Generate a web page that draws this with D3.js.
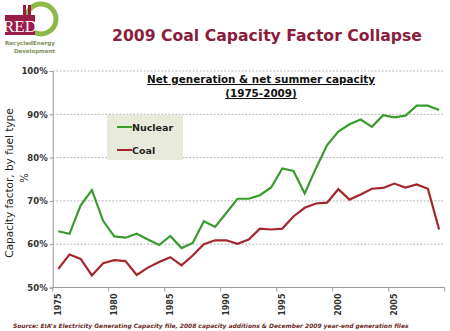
<!DOCTYPE html>
<html><head><meta charset="utf-8">
<script src="https://cdn.jsdelivr.net/npm/d3@7"></script>
<style>body{margin:0;background:#fff}svg{display:block}</style>
</head><body>
<script>
const years = d3.range(1975, 2010);
const nuclear = [63.0,62.4,69.0,72.5,65.4,61.8,61.5,62.4,61.1,59.8,61.9,59.1,60.3,65.3,64.0,67.2,70.5,70.5,71.3,73.1,77.5,76.9,71.7,77.5,82.9,86.0,87.7,88.8,87.1,89.8,89.3,89.7,92.0,92.0,91.0];
const coal = [54.3,57.6,56.6,52.8,55.6,56.3,56.1,52.9,54.6,55.9,57.0,55.1,57.4,60.0,60.9,60.9,60.1,61.1,63.6,63.4,63.6,66.4,68.4,69.4,69.6,72.7,70.3,71.5,72.8,73.0,74.0,73.1,73.8,72.8,63.4];
const yTicks = [50,60,70,80,90,100];
const xTickYears = [1975,1980,1985,1990,1995,2000,2005];
const seriesNames = ["Nuclear","Coal"];
const colors = {Nuclear:"#3a9a30", Coal:"#a3262c"};

const W=450,H=331;
const svg=d3.select("body").append("svg").attr("width",W).attr("height",H);
const pL=52.7, pR=444.7, pT=71, pB=287.5;
const x=d3.scaleBand().domain(years).range([pL,pR]);
const y=d3.scaleLinear().domain([50,100]).range([pB,pT]);

function fit(sel, target){ const w=sel.node().getComputedTextLength(); const fs=parseFloat(sel.attr("font-size")); sel.attr("font-size",(fs*target/w).toFixed(2)); }

// logo
const logo=svg.append("g");
logo.append("circle").attr("cx",41).attr("cy",19).attr("r",15).attr("fill","none").attr("stroke","#8db84a").attr("stroke-width",5);
logo.append("rect").attr("x",23).attr("y",5).attr("width",3).attr("height",10).attr("fill","#9b1d4a");
logo.append("rect").attr("x",28).attr("y",5).attr("width",3).attr("height",10).attr("fill","#9b1d4a");
logo.append("rect").attr("x",5).attr("y",15).attr("width",30).attr("height",20).attr("fill","#9b1d4a");
logo.append("text").attr("x",20).attr("y",32).attr("text-anchor","middle").attr("font-family","Liberation Serif").attr("font-size",17).attr("fill","#fff").text("RED");
const t1=logo.append("text").attr("x",5).attr("y",45).attr("font-family","DejaVu Sans").attr("font-weight","bold").attr("font-size",6).attr("fill","#7d8f5a").text("RecycledEnergy");
fit(t1,50);
const t2=logo.append("text").attr("x",14).attr("y",53).attr("font-family","DejaVu Sans").attr("font-weight","bold").attr("font-size",6).attr("fill","#7d8f5a").text("Development");
fit(t2,41);

// title
const tt=svg.append("text").attr("x",112).attr("y",41).attr("font-family","DejaVu Sans").attr("font-weight","bold").attr("font-size",17).attr("fill","#8a1c3e").text("2009 Coal Capacity Factor Collapse");
fit(tt,310);

// gridlines
svg.append("g").selectAll("line").data(yTicks.filter(d=>d>50)).join("line")
 .attr("x1",pL).attr("x2",pR-1.5).attr("y1",d=>y(d)).attr("y2",d=>y(d))
 .attr("stroke","#b5b5b5").attr("stroke-width",1).attr("stroke-dasharray","2,1.5");

// legend
svg.append("rect").attr("x",107).attr("y",115).attr("width",76).attr("height",45).attr("fill","#e8eadb");
seriesNames.forEach((s,i)=>{
  const yy=127+i*23;
  svg.append("line").attr("x1",117).attr("x2",132).attr("y1",yy).attr("y2",yy).attr("stroke",colors[s]).attr("stroke-width",2);
  svg.append("text").attr("x",132).attr("y",yy+3.5).attr("font-family","DejaVu Sans").attr("font-weight","bold").attr("font-size",9.5).attr("fill","#222").text(s);
});

// subtitle
const st=svg.append("text").attr("x",261).attr("y",83).attr("text-anchor","middle").attr("font-family","DejaVu Sans").attr("font-weight","bold").attr("font-size",10).attr("fill","#111").attr("text-decoration","underline").text("Net generation & net summer capacity");
fit(st,228);
const st2=svg.append("text").attr("x",261).attr("y",97).attr("text-anchor","middle").attr("font-family","DejaVu Sans").attr("font-weight","bold").attr("font-size",st.attr("font-size")).attr("fill","#111").attr("text-decoration","underline").text("(1975-2009)");

// lines
const line=d3.line().x((d,i)=>x(years[i])+x.bandwidth()/2).y(d=>y(d));
[["Nuclear",nuclear],["Coal",coal]].forEach(([s,v])=>{
  svg.append("path").datum(v).attr("d",line).attr("fill","none").attr("stroke",colors[s]).attr("stroke-width",2.2).attr("stroke-linejoin","miter");
});

// y axis
const ya=svg.append("g").attr("transform",`translate(${pL},0)`).call(d3.axisLeft(y).tickValues(yTicks).tickFormat(d=>d+"%").tickSize(3).tickPadding(2));
ya.select(".domain").attr("stroke","#999");
ya.selectAll(".tick line").attr("stroke","#999");
ya.selectAll("text").attr("font-family","DejaVu Sans").attr("font-weight","bold").attr("font-size",8.5).attr("fill","#333");

// x axis
const bounds=d3.range(1975,2011,5);
svg.append("line").attr("x1",pL).attr("x2",pR).attr("y1",pB).attr("y2",pB).attr("stroke","#999");
svg.append("g").selectAll("line").data(bounds).join("line")
 .attr("x1",d=>d===2010?pR:x(d)).attr("x2",d=>d===2010?pR:x(d)).attr("y1",pB).attr("y2",pB+4).attr("stroke","#999");
svg.append("g").selectAll("text").data(xTickYears).join("text")
 .attr("transform",d=>`translate(${x(d)+x.bandwidth()/2+3},${pB+6}) rotate(-90)`)
 .attr("text-anchor","end").attr("font-family","DejaVu Sans").attr("font-weight","bold").attr("font-size",8).attr("fill","#333").text(d=>d);

// y label
svg.append("text").attr("transform","translate(13,183) rotate(-90)").attr("text-anchor","middle").attr("font-family","DejaVu Sans").attr("font-size",10.5).attr("fill","#222").text("Capacity factor, by fuel type");
svg.append("text").attr("transform","translate(28,178) rotate(-90)").attr("text-anchor","middle").attr("font-family","DejaVu Sans").attr("font-size",10).attr("fill","#222").text("%");

// source
const src=svg.append("text").attr("x",13).attr("y",328).attr("font-family","DejaVu Sans").attr("font-style","italic").attr("font-weight","bold").attr("font-size",6).attr("fill","#6b2a1f").text("Source: EIA\u2019s Electricity Generating Capacity file, 2008 capacity additions & December 2009 year-end generation files");
fit(src,396);
</script>
</body></html>
